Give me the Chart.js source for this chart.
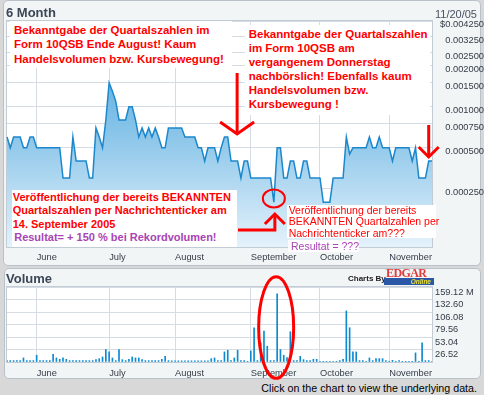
<!DOCTYPE html>
<html>
<head>
<meta charset="utf-8">
<title>6 Month</title>
<script src="https://cdn.jsdelivr.net/npm/chart.js@4.4.1/dist/chart.umd.min.js"></script>
<style>
  html, body { margin: 0; padding: 0; background: #d8d8d8; }
  body { font-family: 'Liberation Sans', Arial, sans-serif; }
  #page { position: relative; width: 484px; height: 395px; overflow: hidden; }
  .panel { position: absolute; box-sizing: border-box; background: #f2f5f5; border: 1px solid #b9c1ca; border-radius: 5px; }
  canvas { position: absolute; left: 0; }
  .title { position: absolute; left: 6px; font: bold 13px 'Liberation Sans', Arial, sans-serif; line-height: 15px; color: #3b4656; }
  .note { position: absolute; box-sizing: border-box; background: #fff; color: #ff0000; white-space: nowrap; }
  .big { font-weight: bold; font-size: 11.5px; }
  .purple { color: #a844b4; }
  #asOf { position: absolute; right: 7px; top: 7.5px; font-size: 11px; line-height: 13px; color: #4a5262; }
  #footer { position: absolute; right: 7px; top: 382px; font-size: 10.7px; line-height: 12px; color: #000; }
  #chartsBy { position: absolute; left: 348px; top: 274px; font: bold 8px 'Liberation Sans', Arial, sans-serif; line-height: 9px; color: #222; }
  #edgar { position: absolute; left: 386px; top: 267px; font: bold 12px 'Liberation Serif', serif; line-height: 12px; color: #e03a3a; letter-spacing: -0.6px; }
  #online { position: absolute; left: 384px; top: 278px; width: 50px; height: 7px; background: #2a58a6; }
  #online span { position: absolute; right: 3px; top: 0; font: italic bold 6.5px 'Liberation Sans', Arial, sans-serif; line-height: 7px; color: #f0e22e; }
</style>
</head>
<body>
<div id="page">
  <div class="panel" style="left:3px;top:0;width:478px;height:266px"></div>
  <div class="panel" style="left:4px;top:268px;width:477px;height:111px"></div>
  <canvas id="priceChart" width="484" height="266" style="top:0"></canvas>
  <canvas id="volumeChart" width="484" height="112" style="top:268px"></canvas>

  <div class="title" style="top:5px">6 Month</div>
  <div id="asOf">11/20/05</div>
  <div class="title" style="top:271px">Volume</div>
  <div id="chartsBy">Charts By</div>
  <div id="edgar">EDGAR</div>
  <div id="online"><span>Online</span></div>

  <div class="note big" style="left:10px;top:21px;width:222px;height:47px;padding:1.7px 0 0 4px;line-height:14.5px">
    Bekanntgabe der Quartalszahlen im<br>Form 10QSB Ende August! Kaum<br>Handelsvolumen bzw. Kursbewegung!
  </div>
  <div class="note big" style="left:245px;top:25px;width:185px;height:90px;padding:3px 0 0 3.7px;line-height:13.9px">
    Bekanntgabe der Quartalszahlen<br>im Form 10QSB am<br>vergangenem Donnerstag<br>nachbörslich! Ebenfalls kaum<br>Handelsvolumen bzw.<br>Kursbewegung !
  </div>
  <div class="note" style="left:12px;top:190px;width:225px;height:57px;padding:0.6px 0 0 0.7px;font-weight:bold;font-size:11px;line-height:13.5px">
    Veröffentlichung der bereits BEKANNTEN<br>Quartalszahlen per Nachrichtenticker am<br>14. September 2005<br><span class="purple" style="padding-left:1.5px">Resultat= + 150 % bei Rekordvolumen!</span>
  </div>
  <div class="note" style="left:287px;top:205px;width:149px;height:33px;padding:0 0 0 1.7px;font-size:10.5px;line-height:11.3px">
    Veröffentlichung der bereits<br>BEKANNTEN Quartalzahlen per<br>Nachrichtenticker am???
  </div>
  <div class="note purple" style="left:288px;top:240px;width:71px;height:12px;padding:0 0 0 3px;font-size:10.5px;line-height:12px">Resultat = ???</div>

  <div id="footer">Click on the chart to view the underlying data.</div>
</div>

<script>
const months = ['May', 'June', 'July', 'August', 'September', 'October', 'November'];
const tradingDays = [9, 22, 20, 23, 21, 21, 14];

// closing price per trading day (USD)
const prices = [
  0.0006, 0.0005, 0.0006, 0.0006, 0.0006, 0.0005, 0.0005, 0.0006, 0.0006, 0.0005,
  0.0005, 0.0005, 0.0005, 0.0005, 0.0005, 0.0005, 0.0005, 0.0003, 0.0003, 0.0003,
  0.0006, 0.0004, 0.0004, 0.0004, 0.0004, 0.0003, 0.0003, 0.0007, 0.0006, 0.0005,
  0.0008, 0.0015, 0.0013, 0.0011, 0.0008, 0.0008, 0.0008, 0.0010, 0.0010, 0.0008,
  0.0006, 0.0007, 0.0006, 0.0007, 0.0006, 0.0007, 0.0006, 0.0005, 0.0005, 0.0007,
  0.0007, 0.0007, 0.0007, 0.0007, 0.0006, 0.0006, 0.0006, 0.0006, 0.0005, 0.0005,
  0.0004, 0.0005, 0.0005, 0.0005, 0.0004, 0.0005, 0.0006, 0.0006, 0.0004, 0.0004,
  0.0004, 0.0003, 0.0004, 0.0004, 0.0003, 0.0003, 0.0003, 0.0003, 0.0003, 0.0003,
  0.0003, 0.0002, 0.0005, 0.0005, 0.0003, 0.0003, 0.0004, 0.0004, 0.0003, 0.0003,
  0.0004, 0.0004, 0.0003, 0.0003, 0.0003, 0.0003, 0.0002, 0.0002, 0.0002, 0.0003,
  0.0003, 0.0003, 0.0003, 0.0006, 0.00045, 0.0005, 0.0005, 0.0005, 0.0005, 0.0005,
  0.0006, 0.0005, 0.0005, 0.0006, 0.0005, 0.0005, 0.0005, 0.0004, 0.0005, 0.0005,
  0.0005, 0.0005, 0.0005, 0.0004, 0.0005, 0.0003, 0.0003, 0.0003, 0.0004, 0.0004
];

// shares traded per day (millions)
const volumes = [
  3, 3, 3, 3, 3, 8.6, 3, 3, 3, 14.3,
  3, 3, 3, 3, 16.4, 8.6, 5.7, 8.6, 5.7, 3,
  3, 3, 3, 3, 3, 3, 3, 5, 7, 10.7,
  26.4, 21.4, 8.6, 3, 26.4, 5, 3, 5.7, 10.7, 8.6,
  8.6, 5, 3, 3, 3, 3, 3, 5.7, 12.1, 3,
  2.5, 2.5, 2.5, 2.5, 2.5, 2.5, 2.5, 2.5, 2.5, 2.5,
  2.5, 2.5, 7.1, 8.6, 3, 3, 21.4, 25, 3, 8.6,
  25, 3, 3, 1.5, 23.5, 72.7, 3, 40.6, 65.6, 33.5,
  3, 3, 144.7, 26.4, 14.3, 9.3, 64.2, 3, 3, 12.1,
  5, 3, 3, 5.7, 5.7, 1.5, 1.5, 1.5, 1.5, 1.5,
  1.5, 3, 5.7, 108.4, 72.7, 21.4, 21.4, 3, 3, 1.5,
  8.6, 3, 7.1, 7.1, 7.1, 3, 1.5, 3.6, 1.5, 3,
  1.5, 1.5, 1.5, 1.5, 19.3, 1.5, 40.6, 3, 3, 1.5
];

const priceTicks = [0.00025, 0.0005, 0.00075, 0.001, 0.0015, 0.002, 0.0025, 0.00325, 0.00425];
const volumeTicks = [0, 26.52, 53.04, 79.56, 106.08, 132.60, 159.12];

// one category per trading day; month name shown on the first day of a month
const dayLabels = [];
const monthStarts = {};
months.forEach((m, k) => {
    if (k > 0) monthStarts[dayLabels.length] = m;
    for (let d = 0; d < tradingDays[k]; d++) dayLabels.push(m);
});

const axisFont = { family: "'Liberation Sans', Arial, sans-serif", size: 9.3 };
const gridColor = '#d5dce4';
const frameColor = '#c3cbd4';
const labelColor = '#343c48';

function monthAxis(height, padding) {
    return {
        offset: false,
        grid: {
            offset: false,
            drawTicks: false,
            color: c => monthStarts[c.index] ? gridColor : 'rgba(0,0,0,0)'
        },
        border: { color: frameColor },
        ticks: {
            autoSkip: false,
            maxRotation: 0,
            align: 'start',
            padding: padding,
            color: labelColor,
            font: axisFont,
            callback: (v, i) => monthStarts[i] || ''
        },
        afterFit: s => { s.height = height; }
    };
}

// white plot area with a thin frame
const plotFrame = {
    id: 'plotFrame',
    beforeDraw(chart) {
        const { ctx, chartArea: a } = chart;
        ctx.save();
        ctx.fillStyle = '#ffffff';
        ctx.fillRect(a.left, a.top, a.right - a.left, a.bottom - a.top);
        ctx.strokeStyle = frameColor;
        ctx.lineWidth = 1;
        ctx.strokeRect(a.left - 0.5, a.top - 0.5, a.right - a.left + 1, a.bottom - a.top + 1);
        ctx.restore();
    }
};

function arrowDown(ctx, x, y0, y1, armX, armY) {
    ctx.beginPath();
    ctx.moveTo(x, y0);
    ctx.lineTo(x, y1);
    ctx.stroke();
    ctx.beginPath();
    ctx.moveTo(x - armX, y1 - armY);
    ctx.lineTo(x, y1);
    ctx.lineTo(x + armX, y1 - armY);
    ctx.stroke();
}

// red hand-drawn markings on the price chart
const priceMarks = {
    id: 'priceMarks',
    afterDatasetsDraw(chart) {
        const { ctx, scales: { x } } = chart;
        ctx.save();
        ctx.strokeStyle = '#ff0000';
        ctx.lineWidth = 3;
        arrowDown(ctx, x.getPixelForValue(70) - 0.5, 73, 134, 17, 12);
        arrowDown(ctx, x.getPixelForValue(128), 125, 157, 10, 10);

        const dip = x.getPixelForValue(81) + 1;
        ctx.beginPath();
        ctx.moveTo(238, 230);
        ctx.lineTo(dip, 230);
        ctx.lineTo(dip, 214);
        ctx.stroke();
        ctx.beginPath();
        ctx.moveTo(dip - 10, 224);
        ctx.lineTo(dip, 214);
        ctx.lineTo(dip + 10, 224);
        ctx.stroke();

        ctx.lineWidth = 2;
        ctx.beginPath();
        ctx.ellipse(dip - 1, 198.5, 11, 9, 0, 0, Math.PI * 2);
        ctx.stroke();
        ctx.restore();
    }
};

const volumeMarks = {
    id: 'volumeMarks',
    afterDatasetsDraw(chart) {
        const { ctx, scales: { x } } = chart;
        ctx.save();
        ctx.strokeStyle = '#ff0000';
        ctx.lineWidth = 3;
        ctx.beginPath();
        ctx.ellipse(x.getPixelForValue(82) - 1, 59.5, 17.5, 50.8, 0, 0, Math.PI * 2);
        ctx.stroke();
        ctx.restore();
    }
};

new Chart(document.getElementById('priceChart'), {
    type: 'line',
    data: {
        labels: dayLabels,
        datasets: [{
            data: prices,
            borderColor: '#1b87cc',
            borderWidth: 1.5,
            pointRadius: 0,
            tension: 0,
            fill: 'start',
            backgroundColor: c => {
                const { ctx, chartArea } = c.chart;
                if (!chartArea) return 'rgba(100,180,225,0.6)';
                const g = ctx.createLinearGradient(0, chartArea.top, 0, chartArea.bottom);
                g.addColorStop(0, '#3f9fdb');
                g.addColorStop(0.5, '#8ac5e9');
                g.addColorStop(1, '#e4f2fb');
                return g;
            }
        }]
    },
    options: {
        responsive: false,
        animation: false,
        devicePixelRatio: 1,
        layout: { padding: { left: 7, top: 21, right: 0, bottom: 0 } },
        plugins: { legend: { display: false }, tooltip: { enabled: false } },
        scales: {
            x: monthAxis(19, 4.5),
            y: {
                type: 'logarithmic',
                position: 'right',
                min: 0.0000938,
                max: 0.00425,
                afterBuildTicks: s => { s.ticks = priceTicks.map(v => ({ value: v })); },
                grid: { color: gridColor, drawTicks: false },
                border: { color: frameColor },
                ticks: {
                    autoSkip: false,
                    crossAlign: 'far',
                    padding: 2,
                    labelOffset: 3.5,
                    color: labelColor,
                    font: axisFont,
                    callback: v => (v === priceTicks[priceTicks.length - 1] ? '$' : '') + Number(v).toFixed(6)
                },
                afterFit: s => { s.width = 52; }
            }
        }
    },
    plugins: [plotFrame, priceMarks]
});

new Chart(document.getElementById('volumeChart'), {
    type: 'bar',
    data: {
        labels: dayLabels,
        datasets: [{
            data: volumes,
            backgroundColor: '#0e8ad0',
            barThickness: 1,
            borderWidth: 0
        }]
    },
    options: {
        responsive: false,
        animation: false,
        devicePixelRatio: 1,
        layout: { padding: { left: 7, top: 19, right: 0, bottom: 0 } },
        plugins: { legend: { display: false }, tooltip: { enabled: false } },
        scales: {
            x: monthAxis(18, 6),
            y: {
                position: 'right',
                min: 0,
                max: 159.12,
                afterBuildTicks: s => { s.ticks = volumeTicks.map(v => ({ value: v })); },
                grid: { color: gridColor, drawTicks: false },
                border: { color: frameColor },
                ticks: {
                    autoSkip: false,
                    crossAlign: 'near',
                    padding: 3,
                    labelOffset: 5,
                    color: labelColor,
                    font: axisFont,
                    callback: v => v === 0 ? '' : (v === 159.12 ? '159.12 M' : Number(v).toFixed(2))
                },
                afterFit: s => { s.width = 52; }
            }
        }
    },
    plugins: [plotFrame, volumeMarks]
});
</script>
</body>
</html>
